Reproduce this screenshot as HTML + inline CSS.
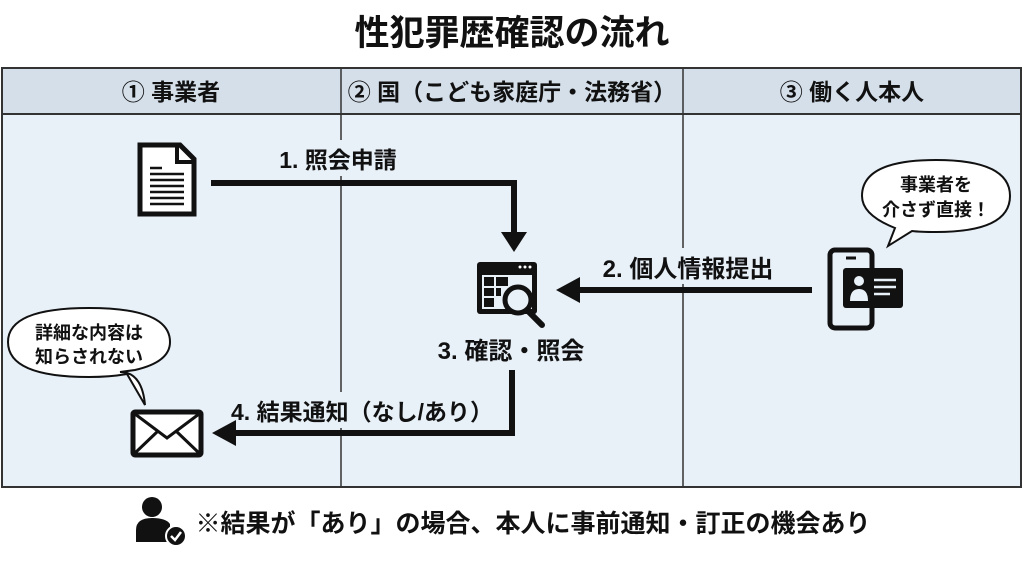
<!DOCTYPE html>
<html><head><meta charset="utf-8"><style>
body{margin:0;width:1024px;height:558px;background:#fff;overflow:hidden}
svg text{font-family:"Liberation Sans","Noto Sans CJK JP",sans-serif;font-weight:bold;fill:#111}
</style></head><body>
<svg width="1024" height="558" viewBox="0 0 1024 558" xmlns="http://www.w3.org/2000/svg">
<text x="512" y="45" text-anchor="middle" font-size="35">性犯罪歴確認の流れ</text>
<rect x="2" y="68" width="1019" height="419" fill="#e8f0f8" stroke="#333" stroke-width="2"/>
<rect x="2" y="68" width="1019" height="46" fill="#d5dfea" stroke="#333" stroke-width="2"/>
<line x1="341" y1="68" x2="341" y2="487" stroke="#333" stroke-width="1.5"/>
<line x1="683" y1="68" x2="683" y2="487" stroke="#333" stroke-width="1.5"/>
<text x="171" y="100" text-anchor="middle" font-size="23">① 事業者</text>
<text x="512" y="100" text-anchor="middle" font-size="23">② 国（こども家庭庁・法務省）</text>
<text x="852" y="100" text-anchor="middle" font-size="23">③ 働く人本人</text>

<path d="M140 145 H180 L194 159 V214 H140 Z" fill="#fff" stroke="#111" stroke-width="5"/>
<path d="M177 145 V162 H194" fill="none" stroke="#111" stroke-width="4"/>
<g stroke="#111" stroke-width="2.5"><line x1="150" y1="168" x2="162" y2="168"/><line x1="150" y1="174" x2="184" y2="174"/><line x1="150" y1="180" x2="184" y2="180"/><line x1="150" y1="186" x2="184" y2="186"/><line x1="150" y1="192" x2="184" y2="192"/><line x1="150" y1="198" x2="184" y2="198"/><line x1="150" y1="204" x2="184" y2="204"/></g>

<rect x="272" y="140" width="132" height="36" fill="#e8f0f8"/>
<text x="338" y="168" text-anchor="middle" font-size="23">1. 照会申請</text>
<path d="M211 183 H514 V234" fill="none" stroke="#111" stroke-width="6"/>
<polygon points="501,232 527,232 514,252" fill="#111"/>

<rect x="477" y="262" width="60" height="52" rx="3" fill="#111"/>
<rect x="482" y="275" width="50" height="34" fill="#e8f0f8"/>
<g fill="#111"><rect x="484" y="277" width="10" height="9"/><rect x="496" y="277" width="12" height="9"/><rect x="484" y="288" width="10" height="8"/><rect x="496" y="288" width="5" height="8"/><rect x="484" y="298" width="10" height="9"/></g>
<circle cx="520" cy="267" r="1.5" fill="#fff"/><circle cx="525" cy="267" r="1.5" fill="#fff"/><circle cx="530" cy="267" r="1.5" fill="#fff"/>
<circle cx="518" cy="300" r="13" fill="#e8f0f8" stroke="#111" stroke-width="5"/>
<line x1="527" y1="310" x2="542" y2="325" stroke="#111" stroke-width="6" stroke-linecap="round"/>
<text x="511" y="359" text-anchor="middle" font-size="24">3. 確認・照会</text>

<rect x="598" y="248" width="180" height="36" fill="#e8f0f8"/>
<text x="688" y="277" text-anchor="middle" font-size="24">2. 個人情報提出</text>
<line x1="812" y1="290" x2="575" y2="290" stroke="#111" stroke-width="6"/>
<polygon points="556,290 580,277 580,303" fill="#111"/>

<rect x="830" y="250" width="42" height="78" rx="5" fill="none" stroke="#111" stroke-width="5"/>
<line x1="846" y1="258" x2="856" y2="258" stroke="#111" stroke-width="3"/>
<rect x="843" y="268" width="60" height="40" rx="3" fill="#111"/>
<circle cx="859" cy="281" r="5" fill="#e8f0f8"/>
<path d="M850 301 Q850 289 859 289 Q868 289 868 301 Z" fill="#e8f0f8"/>
<g stroke="#e8f0f8" stroke-width="2.5"><line x1="874" y1="280" x2="896" y2="280"/><line x1="874" y1="287" x2="896" y2="287"/><line x1="874" y1="294" x2="890" y2="294"/></g>

<path d="M895 228 Q862 215 862 196 Q862 160 936 160 Q1010 160 1010 196 Q1010 232 936 232 Q920 232 912 231 L888 246 Z" fill="#fff" stroke="#111" stroke-width="2"/>
<text x="936" y="191" text-anchor="middle" font-size="18">事業者を</text>
<text x="936" y="216" text-anchor="middle" font-size="18">介さず直接！</text>

<path d="M120 372 Q142 372 145 405 L127 374 Q110 377 89 377 Q8 377 8 342 Q8 308 89 308 Q170 308 170 342 Q170 362 135 370 Z" fill="#fff" stroke="#111" stroke-width="2"/>
<text x="89" y="339" text-anchor="middle" font-size="18">詳細な内容は</text>
<text x="89" y="363" text-anchor="middle" font-size="18">知らされない</text>

<rect x="232" y="392" width="262" height="36" fill="#e8f0f8"/>
<text x="362" y="420" text-anchor="middle" font-size="23">4. 結果通知（なし/あり）</text>
<path d="M512 370 V433 H228" fill="none" stroke="#111" stroke-width="6"/>
<polygon points="212,433 236,420 236,446" fill="#111"/>

<rect x="133" y="412" width="68" height="43" rx="2" fill="#fff" stroke="#111" stroke-width="5"/>
<path d="M135 414 L167 438 L199 414 M135 453 L158 431 M199 453 L176 431" fill="none" stroke="#111" stroke-width="3"/>

<circle cx="152" cy="507" r="10" fill="#111"/>
<path d="M136 542 V530 Q136 518 152 518 Q166 518 170 524 L170 542 Z" fill="#111"/>
<circle cx="176" cy="536" r="10" fill="#111" stroke="#fff" stroke-width="2"/>
<path d="M171 536 L175 540 L181 532" fill="none" stroke="#fff" stroke-width="2.5"/>
<text x="533" y="532" text-anchor="middle" font-size="25">※結果が「あり」の場合、本人に事前通知・訂正の機会あり</text>
</svg>
</body></html>
